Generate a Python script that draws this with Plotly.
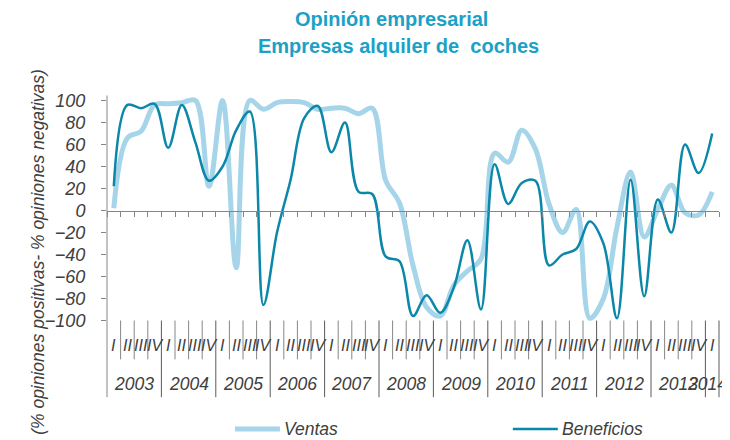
import plotly.graph_objects as go

# ---- data (quarterly, 2003-I .. 2014-I) ----
years = ['2003', '2004', '2005', '2006', '2007', '2008', '2009', '2010',
         '2011', '2012', '2013', '2014']
quarters_per_year = [4, 4, 4, 4, 4, 4, 4, 4, 4, 4, 4, 1]
quarter_names = ['I', 'II', 'III', 'IV']

ventas = [2, 66, 72, 96, 97, 98, 100, 22,
          100, -52, 100, 92, 98, 99, 98, 92,
          93, 93, 88, 93, 27, 7, -50, -88,
          -96, -68, -55, -44, 52, 44, 73, 56,
          6, -20, 1, -98, -80, -15, 35, -24,
          1, 23, -2, -4, 17]

beneficios = [22, 96, 93, 97, 57, 96, 62, 27,
              40, 73, 90, -86, -20, 28, 84, 95,
              53, 80, 17, 15, -42, -46, -96, -77,
              -93, -70, -27, -90, 42, 6, 25, 27,
              -50, -40, -35, -10, -30, -98, 28, -78,
              10, -20, 60, 34, 70]

series_names = ['Ventas', 'Beneficios']

# ---- derived ----
quarter_labels = []
for n in quarters_per_year:
    quarter_labels += quarter_names[:n]
n_q = len(quarter_labels)
xq = [i + 0.5 for i in range(n_q)]

FONT = 'Liberation Sans, Arial, Helvetica, sans-serif'
TXT = '#404040'
GRAY = '#868686'
C_VENTAS = '#a6d5ea'
C_BENEF = '#0a87a9'
C_TITLE = '#1ba1c6'

# page body margin of the html page shifts the figure by 8 px
OFF = 8
W, H = 730 - OFF, 440 - OFF
PLOT_L, PLOT_R = 107, 719.3      # window pixels
PLOT_T, PLOT_B = 94.5, 326.5     # window pixel rows for y = 105 / -105


def py(p):
    return (PLOT_B - p) / (PLOT_B - PLOT_T)


def px(p):
    return (p - PLOT_L) / (PLOT_R - PLOT_L)


fig = go.Figure()
fig.add_trace(go.Scatter(x=xq, y=ventas, name=series_names[0], mode='lines',
                         line=dict(color=C_VENTAS, width=5, shape='spline', smoothing=1.0)))
fig.add_trace(go.Scatter(x=xq, y=beneficios, name=series_names[1], mode='lines',
                         line=dict(color=C_BENEF, width=2.5, shape='spline', smoothing=1.0)))

shapes = []
# y axis line, extended through the category area
shapes.append(dict(type='line', xref='paper', yref='paper', x0=0, x1=0,
                   y0=py(398), y1=py(95), line=dict(color=GRAY, width=1)))
# category boundaries
year_bounds = [0]
for n in quarters_per_year:
    year_bounds.append(year_bounds[-1] + n)
for b in range(1, n_q + 1):
    is_year = b in year_bounds
    bottom = 398 if is_year else 360
    shapes.append(dict(type='line', xref='paper', yref='paper',
                       x0=b / n_q, x1=b / n_q, y0=py(321), y1=py(bottom),
                       line=dict(color='#5a5a5a' if is_year else GRAY, width=1)))

annotations = []
for i, lab in enumerate(quarter_labels):
    annotations.append(dict(x=xq[i], y=py(346), xref='x', yref='paper', text=lab,
                            showarrow=False, xanchor='center', yanchor='middle',
                            font=dict(family=FONT, size=16, color=TXT, style='italic')))
for j, yr in enumerate(years):
    cx = (year_bounds[j] + year_bounds[j + 1]) / 2
    ann = dict(x=cx, y=py(385), xref='x', yref='paper', text=yr,
               showarrow=False, xanchor='center', yanchor='middle',
               font=dict(family=FONT, size=17.5, color=TXT, style='italic'))
    if j == len(years) - 1:
        # keep the last (short) year label inside the picture
        ann.update(x=px(729), xref='paper', xanchor='right')
    annotations.append(ann)

# titles
annotations.append(dict(x=px(392), y=py(18), xref='paper', yref='paper',
                        text='<b>Opinión empresarial</b>', showarrow=False,
                        xanchor='center', yanchor='middle',
                        font=dict(family=FONT, size=20, color=C_TITLE)))
annotations.append(dict(x=px(399), y=py(45), xref='paper', yref='paper',
                        text='<b>Empresas alquiler de \u00a0coches</b>', showarrow=False,
                        xanchor='center', yanchor='middle',
                        font=dict(family=FONT, size=20, color=C_TITLE)))
# y axis title
annotations.append(dict(x=px(38), y=py(252), xref='paper', yref='paper',
                        text='(% opiniones positivas- % opiniones negativas)',
                        showarrow=False, textangle=-90, xanchor='center', yanchor='middle',
                        font=dict(family=FONT, size=17.5, color=TXT, style='italic')))

# legend (drawn manually so it sits exactly like the reference)
legend_items = [(series_names[0], C_VENTAS, 5, 235), (series_names[1], C_BENEF, 2.5, 513)]
for name, col, w, x0 in legend_items:
    shapes.append(dict(type='line', xref='paper', yref='paper',
                       x0=px(x0), x1=px(x0 + 45), y0=py(430), y1=py(430),
                       line=dict(color=col, width=w)))
    annotations.append(dict(x=px(x0 + 47), y=py(430), xref='paper', yref='paper',
                            text=name, showarrow=False, xanchor='left', yanchor='middle',
                            font=dict(family=FONT, size=17.5, color=TXT, style='italic')))

fig.update_layout(
    width=W, height=H,
    margin=dict(l=PLOT_L - OFF, r=730 - PLOT_R, t=PLOT_T - OFF, b=440 - PLOT_B,
                pad=0, autoexpand=False),
    paper_bgcolor='white', plot_bgcolor='white',
    font=dict(family=FONT, color=TXT),
    xaxis=dict(range=[0, n_q], anchor='free', position=0.5, showline=True,
               linecolor=GRAY, linewidth=1, ticks='outside',
               tickvals=list(range(n_q + 1)), ticklen=5, tickcolor=GRAY,
               showticklabels=False, showgrid=False, zeroline=False, fixedrange=True),
    yaxis=dict(range=[-105, 105], tickvals=list(range(-100, 101, 20)),
               ticks='outside', ticklen=5, tickcolor=GRAY, showline=False,
               showgrid=False, zeroline=False, ticklabelstandoff=12,
               tickfont=dict(family=FONT, size=18, color=TXT, style='italic')),
    showlegend=False,
    shapes=shapes,
    annotations=annotations,
)

fig.write_html('out.html')
